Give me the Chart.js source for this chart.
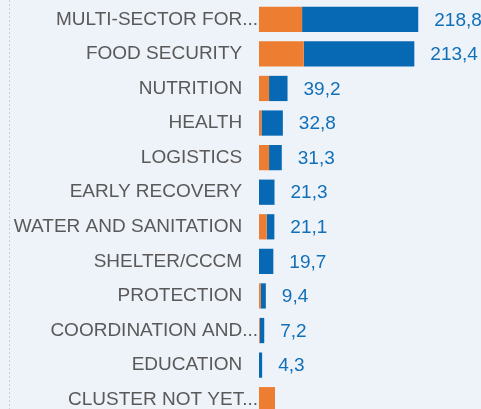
<!DOCTYPE html>
<html>
<head>
<meta charset="utf-8">
<script src="https://cdn.jsdelivr.net/npm/chart.js@4/dist/chart.umd.min.js"></script>
<style>
  html, body { margin: 0; padding: 0; background: #EEF2F9; overflow: hidden; width: 481px; height: 409px; }
  canvas { display: block; }
</style>
</head>
<body>
<canvas id="c" width="481" height="421"></canvas>
<script>
const categories = [
  "MULTI-SECTOR FOR REFUGEES",
  "FOOD SECURITY",
  "NUTRITION",
  "HEALTH",
  "LOGISTICS",
  "EARLY RECOVERY",
  "WATER AND SANITATION",
  "SHELTER/CCCM",
  "PROTECTION",
  "COORDINATION AND SUPPORT SERVICES",
  "EDUCATION",
  "CLUSTER NOT YET SPECIFIED"
];
const fundedOrange = [59.2, 61.5, 13.8, 3.4, 13.8, 0, 10.6, 0, 2.5, 1.0, 0, 22.0];
const remainingBlue = [159.6, 151.9, 25.4, 29.4, 17.5, 21.3, 10.5, 19.7, 6.9, 6.2, 4.3, 0];

const FONT = '"Liberation Sans", Arial, sans-serif';
const FSIZE = 19;
const LABEL_MAX = 236;

const mctx = document.createElement('canvas').getContext('2d');
mctx.font = FSIZE + 'px ' + FONT;
function shortLabel(s) {
  if (mctx.measureText(s).width <= LABEL_MAX) return s + '   ';
  const words = s.split(' ');
  let out = words[0];
  for (let i = 1; i < words.length; i++) {
    const t = out + ' ' + words[i];
    if (mctx.measureText(t).width > LABEL_MAX) break;
    out = t;
  }
  return out + '...';
}

const bgLine = {
  id: 'bgLine',
  beforeDraw(chart) {
    const c = chart.ctx;
    c.save();
    c.fillStyle = '#EEF2F9';
    c.fillRect(0, 0, chart.width, chart.height);
    c.strokeStyle = '#C9CCD1';
    c.lineWidth = 1;
    c.setLineDash([2, 2]);
    c.beginPath();
    c.moveTo(9.5, 0);
    c.lineTo(9.5, chart.height);
    c.stroke();
    c.restore();
  }
};

const valueLabels = {
  id: 'valueLabels',
  afterDatasetsDraw(chart) {
    const c = chart.ctx;
    const meta = chart.getDatasetMeta(1);
    c.save();
    c.font = FSIZE + 'px ' + FONT;
    c.fillStyle = '#1170B8';
    c.textAlign = 'left';
    c.textBaseline = 'middle';
    meta.data.forEach((bar, i) => {
      if (!remainingBlue[i]) return;
      const total = fundedOrange[i] + remainingBlue[i];
      const txt = total.toFixed(1).replace('.', ',');
      c.fillText(txt, bar.x + 16, bar.y + 1);
    });
    c.restore();
  }
};

new Chart(document.getElementById('c'), {
  type: 'bar',
  data: {
    labels: categories,
    datasets: [
      { data: fundedOrange, backgroundColor: '#ED7D31', borderWidth: 0 },
      { data: remainingBlue, backgroundColor: '#0769B4', borderWidth: 0 }
    ]
  },
  options: {
    indexAxis: 'y',
    responsive: false,
    animation: false,
    events: [],
    layout: { padding: { top: 2, bottom: 4, left: 0, right: 0 } },
    categoryPercentage: 1,
    barPercentage: 0.73,
    plugins: { legend: { display: false }, tooltip: { enabled: false } },
    scales: {
      x: { stacked: true, display: false, min: 0, max: 305 },
      y: {
        stacked: true,
        afterFit(scale) { scale.width = 259; scale.paddingTop = 0; scale.paddingBottom = 0; },
        grid: { display: false, drawTicks: false },
        border: { display: false },
        ticks: {
          padding: 1,
          color: '#595959',
          font: { family: FONT, size: FSIZE },
          autoSkip: false,
          callback(v) { return shortLabel(this.getLabelForValue(v)); }
        }
      }
    }
  },
  plugins: [bgLine, valueLabels]
});
</script>
</body>
</html>
